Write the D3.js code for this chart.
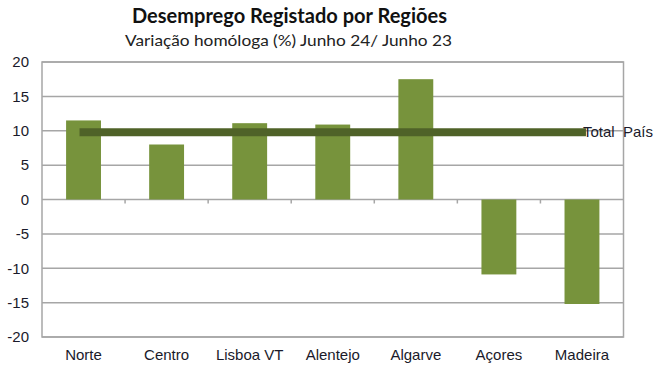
<!DOCTYPE html>
<html>
<head>
<meta charset="utf-8">
<script src="https://cdn.jsdelivr.net/npm/d3@7"></script>
<style>
  body { margin: 0; background: #fff; }
  svg { display: block; }
</style>
</head>
<body>
<div id="chart"></div>
<script>
// chart data
const regions = ["Norte", "Centro", "Lisboa VT", "Alentejo", "Algarve", "Açores", "Madeira"];
const variation = [11.5, 8.0, 11.1, 10.9, 17.5, -10.9, -15.2];
const totalPais = 9.8;
const yTicks = [20, 15, 10, 5, 0, -5, -10, -15, -20];

const width = 662;
const height = 368;
const margin = { top: 62, right: 38.5, bottom: 31, left: 42 };
const labelFont = "Arial, 'Liberation Sans', sans-serif";
const titleFont = "Lato, 'Noto Sans', sans-serif";

const svg = d3.select("#chart")
  .append("svg")
  .attr("width", width)
  .attr("height", height);

// scales
const x = d3.scaleBand()
  .domain(regions)
  .range([margin.left, width - margin.right]);

const y = d3.scaleLinear()
  .domain([-20, 20])
  .range([height - margin.bottom, margin.top]);

const barWidth = x.step() * 0.42;

// titles
svg.append("text")
  .attr("x", 132)
  .attr("y", 23)
  .attr("font-family", titleFont)
  .attr("font-weight", "bold")
  .attr("font-size", 20)
  .attr("fill", "#111")
  .attr("textLength", 315)
  .attr("lengthAdjust", "spacingAndGlyphs")
  .text("Desemprego Registado por Regiões");

svg.append("text")
  .attr("x", 125)
  .attr("y", 46)
  .attr("font-family", titleFont)
  .attr("font-size", 16)
  .attr("fill", "#222")
  .attr("textLength", 327)
  .attr("lengthAdjust", "spacingAndGlyphs")
  .text("Variação homóloga (%) Junho 24/ Junho 23");

// gridlines
svg.append("g")
  .selectAll("line")
  .data(yTicks)
  .join("line")
  .attr("x1", margin.left)
  .attr("x2", width - margin.right)
  .attr("y1", d => y(d))
  .attr("y2", d => y(d))
  .attr("stroke", "#a6a6a6")
  .attr("stroke-width", 1.5);

// plot frame
svg.append("rect")
  .attr("x", margin.left)
  .attr("y", margin.top)
  .attr("width", width - margin.left - margin.right)
  .attr("height", height - margin.top - margin.bottom)
  .attr("fill", "none")
  .attr("stroke", "#a6a6a6")
  .attr("stroke-width", 1.5);

// y axis labels
const yAxis = svg.append("g")
  .attr("transform", `translate(${margin.left},0)`)
  .call(d3.axisLeft(y).tickValues(yTicks).tickSize(0).tickPadding(13).tickFormat(d => String(d)));
yAxis.select(".domain").remove();
yAxis.selectAll("text")
  .attr("font-family", labelFont)
  .attr("font-size", 15)
  .attr("fill", "#1a1a2a");

// bars
svg.append("g")
  .selectAll("rect")
  .data(regions)
  .join("rect")
  .attr("x", (d) => x(d) + (x.bandwidth() - barWidth) / 2)
  .attr("width", barWidth)
  .attr("y", (d, i) => y(Math.max(0, variation[i])))
  .attr("height", (d, i) => Math.abs(y(variation[i]) - y(0)))
  .attr("fill", "#77933c");

// category ticks on the zero line
svg.append("g")
  .selectAll("line")
  .data(regions.slice(1))
  .join("line")
  .attr("x1", d => x(d))
  .attr("x2", d => x(d))
  .attr("y1", y(0))
  .attr("y2", y(0) + 4)
  .attr("stroke", "#a6a6a6")
  .attr("stroke-width", 1.5);

// category labels
svg.append("g")
  .selectAll("text")
  .data(regions)
  .join("text")
  .attr("x", d => x(d) + x.bandwidth() / 2)
  .attr("y", 360)
  .attr("text-anchor", "middle")
  .attr("font-family", labelFont)
  .attr("font-size", 15)
  .attr("fill", "#1a1a2a")
  .text(d => d);

// Total País line
const xFirst = x(regions[0]) + x.bandwidth() / 2;
const xLast = x(regions[regions.length - 1]) + x.bandwidth() / 2;
svg.append("line")
  .attr("x1", xFirst)
  .attr("x2", xLast)
  .attr("y1", y(totalPais))
  .attr("y2", y(totalPais))
  .attr("stroke", "#4f6228")
  .attr("stroke-width", 8)
  .attr("stroke-linecap", "square");

svg.append("text")
  .attr("x", 583)
  .attr("y", y(totalPais) + 5)
  .attr("font-family", labelFont)
  .attr("font-size", 15)
  .attr("fill", "#1a1a2a")
  .attr("xml:space", "preserve")
  .text("Total  País");
</script>
</body>
</html>
